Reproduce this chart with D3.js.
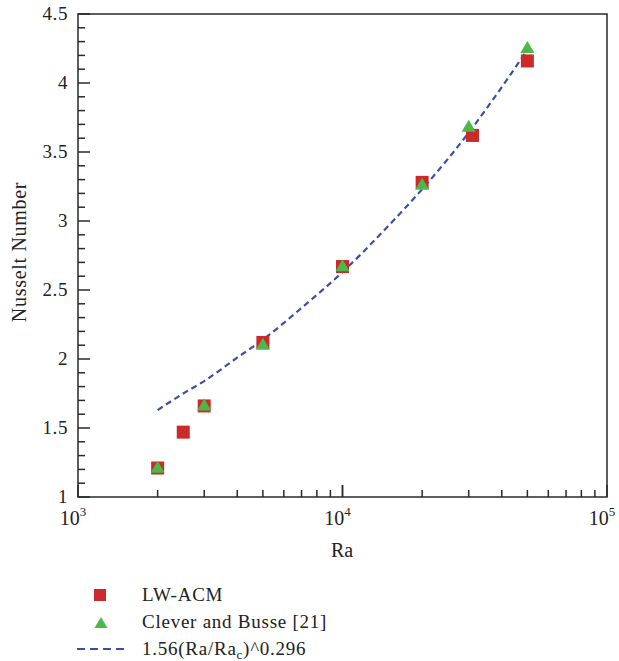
<!DOCTYPE html>
<html>
<head>
<meta charset="utf-8">
<script src="https://cdn.jsdelivr.net/npm/d3@7"></script>
<style>
html,body{margin:0;padding:0;background:#fff;}
svg text{font-family:"Liberation Serif","Times New Roman",serif;fill:#222;}
</style>
</head>
<body>
<svg id="chart" width="619" height="661"></svg>
<script>
// Data
const lwRa = [2000, 2500, 3000, 5000, 10000, 20000, 31000, 50000];
const lwNu = [1.21, 1.47, 1.66, 2.12, 2.67, 3.28, 3.62, 4.16];
const cbRa = [2000, 3000, 5000, 10000, 20000, 30000, 50000];
const cbNu = [1.22, 1.67, 2.11, 2.68, 3.27, 3.69, 4.26];
const fitRa = [2000, 2500, 3000, 4000, 5000, 7000, 10000, 15000, 20000, 30000, 40000, 50000];
const fitNu = [1.63, 1.75, 1.84, 2.01, 2.14, 2.37, 2.63, 2.97, 3.23, 3.64, 3.97, 4.24];
const yTicks = [1, 1.5, 2, 2.5, 3, 3.5, 4, 4.5];
const xTickExp = [3, 4, 5];
const legendLabels = ["LW-ACM", "Clever and Busse [21]", "1.56(Ra/Ra"];

const svg = d3.select("#chart");
const FONT = "Liberation Serif, Times New Roman, serif";
const L = 78, T = 14, R = 607, B = 497;
const x = d3.scaleLog().domain([1e3, 1e5]).range([L, R]);
const y = d3.scaleLinear().domain([1, 4.5]).range([B, T]);
const axisColor = "#2a2a2a";

// Frame
svg.append("rect").attr("x", L).attr("y", T).attr("width", R - L).attr("height", B - T)
  .attr("fill", "none").attr("stroke", axisColor).attr("stroke-width", 1.5);

// Y ticks (inside)
const yMinor = d3.range(10, 46).map(d => d / 10);
svg.append("g").selectAll("line").data(yMinor).join("line")
  .attr("x1", L).attr("x2", d => L + (Math.abs(d * 2 - Math.round(d * 2)) < 1e-6 ? 12 : 7))
  .attr("y1", d => y(d)).attr("y2", d => y(d))
  .attr("stroke", axisColor).attr("stroke-width", 1.5);
svg.append("g").selectAll("text").data(yTicks).join("text")
  .attr("x", L - 10).attr("y", d => y(d)).attr("dy", "0.34em")
  .attr("text-anchor", "end").attr("font-size", 19).attr("font-family", FONT)
  .attr("letter-spacing", 0.6)
  .text(d => d3.format("")(d));

// X ticks (inside)
const xMinor = [];
[1e3, 1e4].forEach(b => { for (let k = 1; k <= 10; k++) xMinor.push(b * k); });
svg.append("g").selectAll("line").data(xMinor).join("line")
  .attr("x1", d => x(d)).attr("x2", d => x(d))
  .attr("y1", B).attr("y2", d => B - ([1e3, 1e4, 1e5].includes(d) ? 12 : 7))
  .attr("stroke", axisColor).attr("stroke-width", 1.5);
const xl = svg.append("g").selectAll("text").data(xTickExp).join("text")
  .attr("x", d => x(Math.pow(10, d)) - 5).attr("y", 525)
  .attr("text-anchor", "middle").attr("font-size", 20).attr("font-family", FONT);
xl.append("tspan").text("10");
xl.append("tspan").attr("dy", -9).attr("font-size", 13).text(d => d);

// Axis titles
svg.append("text").attr("x", 342).attr("y", 557).attr("text-anchor", "middle")
  .attr("font-size", 20).attr("font-family", FONT).text("Ra");
svg.append("text").attr("transform", "translate(26,252) rotate(-90)")
  .attr("text-anchor", "middle").attr("font-size", 20).attr("letter-spacing", 0.7)
  .attr("font-family", FONT).text("Nusselt Number");

// Fit line
const line = d3.line().x(d => x(d[0])).y(d => y(d[1])).curve(d3.curveMonotoneX);
svg.append("path").datum(fitRa.map((r, i) => [r, fitNu[i]]))
  .attr("d", line).attr("fill", "none").attr("stroke", "#3b4fa6")
  .attr("stroke-width", 2.2).attr("stroke-dasharray", "6,4");

// Squares
const sq = 13;
svg.append("g").selectAll("rect").data(lwRa.map((r, i) => [r, lwNu[i]])).join("rect")
  .attr("x", d => x(d[0]) - sq / 2).attr("y", d => y(d[1]) - sq / 2)
  .attr("width", sq).attr("height", sq).attr("fill", "#cc2a2a");

// Triangles
const tri = (cx, cy, w, h) => `M${cx},${cy - h / 2}L${cx + w / 2},${cy + h / 2}L${cx - w / 2},${cy + h / 2}Z`;
svg.append("g").selectAll("path").data(cbRa.map((r, i) => [r, cbNu[i]])).join("path")
  .attr("d", d => tri(x(d[0]), y(d[1]), 14, 12)).attr("fill", "#4cb848");

// Legend
svg.append("rect").attr("x", 94).attr("y", 589).attr("width", 12).attr("height", 12).attr("fill", "#cc2a2a");
svg.append("path").attr("d", tri(101, 622.5, 13, 11)).attr("fill", "#4cb848");
svg.append("line").attr("x1", 77).attr("x2", 124).attr("y1", 649).attr("y2", 649)
  .attr("stroke", "#3b4fa6").attr("stroke-width", 2.2).attr("stroke-dasharray", "8,5");
const lg = svg.append("g").attr("font-size", 19).attr("font-family", FONT).attr("letter-spacing", 0.75);
lg.append("text").attr("x", 142).attr("y", 601).text(legendLabels[0]);
lg.append("text").attr("x", 142).attr("y", 628).text(legendLabels[1]);
const lt = lg.append("text").attr("x", 142).attr("y", 655);
lt.append("tspan").text(legendLabels[2]);
lt.append("tspan").attr("font-size", 13).attr("dy", 4).text("c");
lt.append("tspan").attr("dy", -4).text(")^0.296");
</script>
</body>
</html>
